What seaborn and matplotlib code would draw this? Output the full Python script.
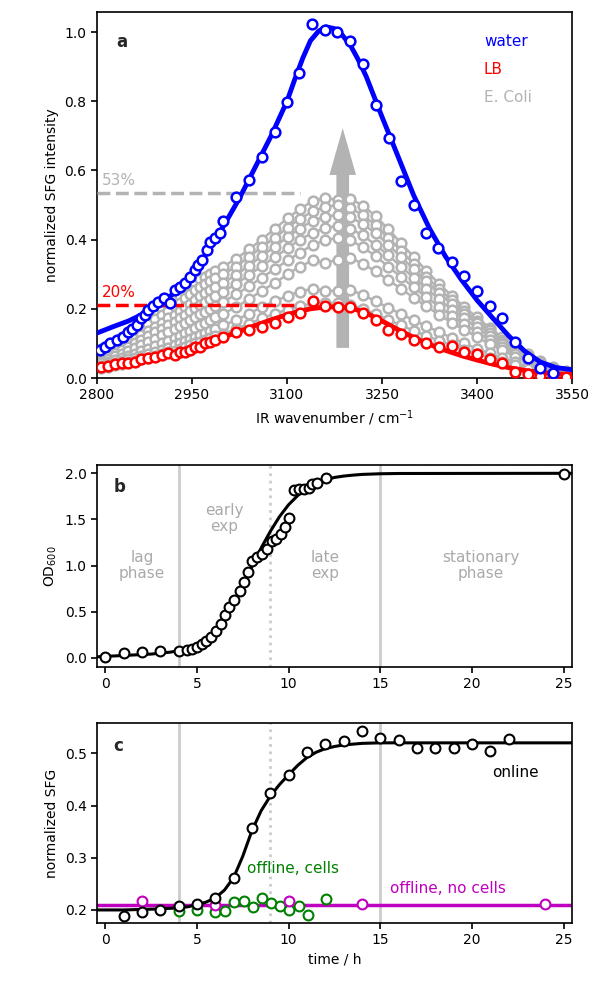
import numpy as np
import pandas as pd
import matplotlib
matplotlib.use("Agg")
import matplotlib.pyplot as plt
import seaborn as sns

# ---------------- Panel a data ----------------
water_x = [2805, 2812, 2821, 2831, 2841, 2849, 2856, 2863, 2870, 2876, 2881, 2889, 2897, 2905,
           2915, 2923, 2931, 2939, 2947, 2955, 2960, 2965, 2973, 2978, 2986, 2994, 2999, 3019,
           3040, 3060, 3081, 3100, 3119, 3139, 3160, 3179, 3200, 3220, 3240, 3261, 3280, 3300,
           3320, 3339, 3360, 3380, 3400, 3420, 3440, 3460, 3480, 3500, 3520]
water_y = [0.081, 0.090, 0.100, 0.110, 0.119, 0.134, 0.143, 0.153, 0.172, 0.182, 0.197, 0.208,
           0.221, 0.230, 0.216, 0.254, 0.264, 0.274, 0.293, 0.312, 0.327, 0.341, 0.370, 0.394,
           0.404, 0.418, 0.455, 0.524, 0.571, 0.640, 0.710, 0.797, 0.883, 1.023, 1.006, 1.001,
           0.974, 0.908, 0.789, 0.694, 0.570, 0.500, 0.418, 0.375, 0.336, 0.295, 0.252, 0.208,
           0.172, 0.105, 0.057, 0.028, 0.015]

fit_x = [2800, 2825, 2850, 2875, 2900, 2925, 2950, 2975, 3000, 3025, 3050, 3075, 3100, 3112,
         3125, 3137, 3150, 3162, 3175, 3187, 3200, 3212, 3225, 3250, 3275, 3300, 3325, 3350,
         3375, 3400, 3425, 3450, 3475, 3500, 3525, 3550]
water_fit = [0.130, 0.148, 0.165, 0.187, 0.215, 0.250, 0.300, 0.365, 0.440, 0.520, 0.610,
             0.700, 0.800, 0.862, 0.925, 0.975, 1.003, 1.015, 1.010, 0.992, 0.962, 0.922,
             0.872, 0.755, 0.642, 0.528, 0.432, 0.352, 0.285, 0.225, 0.173, 0.122, 0.078,
             0.046, 0.030, 0.024]
lb_fit = [0.030, 0.037, 0.044, 0.053, 0.063, 0.075, 0.087, 0.102, 0.118, 0.135, 0.152, 0.168,
          0.183, 0.189, 0.195, 0.200, 0.203, 0.205, 0.206, 0.205, 0.202, 0.196, 0.188, 0.165,
          0.140, 0.117, 0.097, 0.080, 0.065, 0.052, 0.040, 0.030, 0.022, 0.016, 0.012, 0.010]

spec_x = [2807, 2818, 2828, 2839, 2849, 2860, 2870, 2881, 2891, 2902, 2912, 2923, 2931, 2939,
          2947, 2955, 2963, 2970, 2978, 2986, 2999, 3020, 3040, 3060, 3081, 3101, 3120, 3141,
          3160, 3180, 3200, 3220, 3240, 3260, 3280, 3300, 3320, 3340, 3360, 3380, 3400, 3420,
          3440, 3460, 3480, 3500, 3520, 3540]
lb_y = [0.033, 0.035, 0.040, 0.042, 0.044, 0.047, 0.054, 0.057, 0.062, 0.066, 0.071, 0.066,
        0.076, 0.076, 0.081, 0.090, 0.090, 0.100, 0.105, 0.110, 0.119, 0.134, 0.139, 0.148,
        0.158, 0.177, 0.187, 0.223, 0.208, 0.206, 0.206, 0.187, 0.168, 0.139, 0.127, 0.110,
        0.100, 0.091, 0.092, 0.076, 0.069, 0.055, 0.042, 0.018, 0.012, 0.006, 0.004, 0.002]

ecoli_1 = [0.085, 0.095, 0.105, 0.118, 0.130, 0.142, 0.155, 0.170, 0.185, 0.200, 0.212, 0.225,
           0.238, 0.250, 0.262, 0.275, 0.285, 0.292, 0.300, 0.308, 0.322, 0.345, 0.372, 0.400,
           0.432, 0.462, 0.488, 0.512, 0.520, 0.515, 0.518, 0.498, 0.468, 0.430, 0.390, 0.350,
           0.310, 0.272, 0.238, 0.205, 0.175, 0.145, 0.118, 0.092, 0.068, 0.048, 0.032, 0.020]
ecoli_2 = [0.075, 0.085, 0.095, 0.107, 0.118, 0.130, 0.142, 0.155, 0.170, 0.183, 0.195, 0.207,
           0.218, 0.230, 0.242, 0.253, 0.263, 0.272, 0.280, 0.288, 0.300, 0.322, 0.350, 0.378,
           0.405, 0.435, 0.460, 0.482, 0.495, 0.500, 0.492, 0.470, 0.442, 0.405, 0.368, 0.330,
           0.292, 0.258, 0.225, 0.195, 0.165, 0.138, 0.110, 0.086, 0.064, 0.045, 0.030, 0.018]
ecoli_3 = [0.065, 0.073, 0.082, 0.092, 0.102, 0.112, 0.123, 0.135, 0.148, 0.160, 0.172, 0.183,
           0.194, 0.205, 0.215, 0.226, 0.236, 0.245, 0.253, 0.262, 0.275, 0.298, 0.325, 0.352,
           0.380, 0.408, 0.432, 0.455, 0.466, 0.472, 0.465, 0.445, 0.418, 0.385, 0.350, 0.315,
           0.280, 0.246, 0.215, 0.185, 0.158, 0.130, 0.105, 0.082, 0.060, 0.042, 0.028, 0.017]
ecoli_4 = [0.058, 0.065, 0.073, 0.082, 0.090, 0.100, 0.110, 0.120, 0.132, 0.143, 0.153, 0.163,
           0.173, 0.183, 0.193, 0.203, 0.212, 0.220, 0.228, 0.236, 0.250, 0.272, 0.298, 0.323,
           0.350, 0.375, 0.400, 0.420, 0.433, 0.440, 0.432, 0.412, 0.385, 0.355, 0.322, 0.290,
           0.258, 0.228, 0.198, 0.172, 0.146, 0.121, 0.098, 0.076, 0.056, 0.040, 0.026, 0.016]
ecoli_5 = [0.050, 0.056, 0.063, 0.070, 0.078, 0.086, 0.095, 0.104, 0.114, 0.123, 0.133, 0.142,
           0.150, 0.158, 0.167, 0.176, 0.184, 0.192, 0.200, 0.208, 0.220, 0.242, 0.265, 0.290,
           0.315, 0.340, 0.362, 0.385, 0.398, 0.405, 0.398, 0.378, 0.352, 0.322, 0.292, 0.262,
           0.234, 0.206, 0.180, 0.156, 0.133, 0.110, 0.089, 0.070, 0.052, 0.036, 0.024, 0.014]
ecoli_6 = [0.042, 0.047, 0.052, 0.058, 0.064, 0.070, 0.077, 0.084, 0.092, 0.100, 0.107, 0.115,
           0.122, 0.130, 0.137, 0.145, 0.152, 0.160, 0.167, 0.175, 0.186, 0.205, 0.228, 0.252,
           0.275, 0.300, 0.322, 0.340, 0.333, 0.342, 0.347, 0.330, 0.308, 0.283, 0.258, 0.232,
           0.207, 0.183, 0.160, 0.139, 0.118, 0.098, 0.080, 0.062, 0.046, 0.032, 0.021, 0.012]
ecoli_7 = [0.036, 0.040, 0.044, 0.049, 0.054, 0.059, 0.064, 0.070, 0.076, 0.082, 0.088, 0.094,
           0.100, 0.106, 0.112, 0.118, 0.124, 0.130, 0.136, 0.142, 0.152, 0.168, 0.186, 0.205,
           0.222, 0.238, 0.250, 0.258, 0.252, 0.252, 0.255, 0.240, 0.222, 0.203, 0.185, 0.167,
           0.150, 0.133, 0.116, 0.100, 0.085, 0.071, 0.058, 0.045, 0.033, 0.023, 0.015, 0.009]
ecoli_8 = [0.030, 0.033, 0.037, 0.041, 0.045, 0.049, 0.054, 0.059, 0.064, 0.069, 0.074, 0.079,
           0.084, 0.089, 0.094, 0.100, 0.105, 0.110, 0.115, 0.120, 0.128, 0.142, 0.157, 0.172,
           0.186, 0.198, 0.208, 0.215, 0.218, 0.216, 0.212, 0.200, 0.185, 0.168, 0.152, 0.137,
           0.122, 0.108, 0.095, 0.082, 0.070, 0.058, 0.047, 0.037, 0.027, 0.019, 0.012, 0.007]
ecoli_series = [ecoli_1, ecoli_2, ecoli_3, ecoli_4, ecoli_5, ecoli_6, ecoli_7, ecoli_8]

# ---------------- Panel b data ----------------
od_t = [0, 1, 2, 3, 4, 4.45, 4.72, 5.0, 5.27, 5.5, 5.76, 6.05, 6.3, 6.54, 6.77, 7.03, 7.32,
        7.57, 7.81, 7.99, 8.27, 8.54, 8.81, 9.08, 9.32, 9.57, 9.81, 10.04, 10.3, 10.57, 10.84,
        11.1, 11.3, 11.57, 12.04, 25.0]
od_y = [0.003, 0.047, 0.065, 0.076, 0.070, 0.083, 0.100, 0.120, 0.150, 0.185, 0.220, 0.290,
        0.366, 0.467, 0.547, 0.627, 0.720, 0.820, 0.935, 1.050, 1.090, 1.130, 1.180, 1.270,
        1.290, 1.345, 1.416, 1.518, 1.823, 1.826, 1.830, 1.845, 1.880, 1.890, 1.950, 1.997]
od_fit_t = [-0.5, 0, 0.5, 1, 1.5, 2, 2.5, 3, 3.5, 4, 4.5, 5, 5.5, 6, 6.5, 7, 7.5, 8, 8.5, 9,
            9.5, 10, 10.5, 11, 11.5, 12, 12.5, 13, 13.5, 14, 15, 16, 25.5]
od_fit_y = [0.010, 0.015, 0.020, 0.025, 0.030, 0.035, 0.040, 0.050, 0.060, 0.075, 0.095, 0.130,
            0.190, 0.280, 0.410, 0.580, 0.780, 0.990, 1.190, 1.370, 1.530, 1.660, 1.760, 1.840,
            1.890, 1.930, 1.955, 1.970, 1.980, 1.988, 1.995, 1.998, 2.000]

# ---------------- Panel c data ----------------
online_t = [1, 2, 3, 4, 5, 6, 7, 8, 9, 10, 11, 12, 13, 14, 15, 16, 17, 18, 19, 20, 21, 22]
online_y = [0.188, 0.197, 0.199, 0.208, 0.211, 0.222, 0.262, 0.356, 0.423, 0.458, 0.503, 0.517,
            0.524, 0.542, 0.529, 0.526, 0.510, 0.510, 0.510, 0.517, 0.504, 0.528]
online_fit_t = [-0.5, 0, 1, 2, 3, 4, 4.5, 5, 5.5, 6, 6.5, 7, 7.5, 8, 8.5, 9, 9.5, 10, 10.5, 11,
                11.5, 12, 12.5, 13, 14, 15, 25.5]
online_fit_y = [0.200, 0.200, 0.200, 0.201, 0.202, 0.204, 0.206, 0.210, 0.215, 0.223, 0.238,
                0.262, 0.303, 0.352, 0.390, 0.418, 0.440, 0.459, 0.477, 0.492, 0.502, 0.509,
                0.513, 0.516, 0.519, 0.520, 0.520]
cells_t = [4.0, 5.0, 6.0, 6.54, 7.03, 7.54, 8.03, 8.54, 9.03, 9.54, 10.03, 10.54, 11.05, 12.04]
cells_y = [0.198, 0.200, 0.196, 0.198, 0.215, 0.217, 0.206, 0.222, 0.213, 0.208, 0.200, 0.208,
           0.190, 0.221]
nocells_t = [2, 6, 10, 14, 24]
nocells_y = [0.217, 0.209, 0.217, 0.211, 0.211]
nocells_level = 0.210

phase_lines = [4, 15]
exp_split = 9

# ---------------- styling ----------------
sns.set_style("ticks")
plt.rcParams.update({
    "font.family": ["DejaVu Sans"],
    "font.size": 10,
    "axes.labelsize": 10,
    "xtick.labelsize": 10,
    "ytick.labelsize": 10,
    "axes.linewidth": 1.2,
    "axes.edgecolor": "black",
    "xtick.color": "black",
    "ytick.color": "black",
    "xtick.major.width": 1.2,
    "ytick.major.width": 1.2,
    "xtick.major.size": 4,
    "ytick.major.size": 4,
    "axes.labelcolor": "black",
})

GRAY = "#b3b3b3"
VGRAY = "#cccccc"
TGRAY = "#aaaaaa"
MS = 7
MEW = 1.8

fig = plt.figure(figsize=(5.95, 9.89), dpi=100)
L, W = 97 / 595, (572 - 97) / 595
axa = fig.add_axes([L, 1 - 378 / 989, W, 366 / 989])
axb = fig.add_axes([L, 1 - 667 / 989, W, 202 / 989])
axc = fig.add_axes([L, 1 - 923 / 989, W, 200 / 989])

# ---- panel a ----
axa.arrow(3188, 0.087, 0, 0.635, width=20, head_width=42, head_length=0.135,
          length_includes_head=True, color=GRAY, lw=0, zorder=1)

ecoli_df = pd.DataFrame({
    "x": np.tile(spec_x, len(ecoli_series)),
    "y": np.concatenate(ecoli_series),
    "s": np.repeat(np.arange(len(ecoli_series)), len(spec_x)),
})
sns.lineplot(data=ecoli_df, x="x", y="y", hue="s", palette=[GRAY] * len(ecoli_series),
             estimator=None, sort=False, legend=False, ax=axa, lw=1.8, marker="o",
             markersize=MS, markerfacecolor="white", markeredgecolor=GRAY,
             markeredgewidth=MEW, zorder=2)

axa.plot([2800, 3120], [0.535, 0.535], ls="--", color=GRAY, lw=2.5, zorder=3)
axa.plot([2800, 3117], [0.211, 0.211], ls="--", color="r", lw=2.5, zorder=3)
axa.text(2807, 0.570, "53%", color=GRAY, fontsize=11, va="center", ha="left")
axa.text(2807, 0.247, "20%", color="r", fontsize=11, va="center", ha="left")

sns.lineplot(x=fit_x, y=lb_fit, color="r", lw=3.5, ax=axa, zorder=4)
sns.lineplot(x=spec_x, y=lb_y, ax=axa, color="r", lw=0, marker="o", markersize=MS,
             markerfacecolor="white", markeredgecolor="r", markeredgewidth=MEW,
             estimator=None, sort=False, zorder=5)
sns.lineplot(x=fit_x, y=water_fit, color="b", lw=3.5, ax=axa, zorder=6)
sns.lineplot(x=water_x, y=water_y, ax=axa, color="b", lw=0, marker="o", markersize=MS,
             markerfacecolor="white", markeredgecolor="b", markeredgewidth=MEW,
             estimator=None, sort=False, zorder=7)

axa.text(2831, 0.971, "a", fontsize=12, fontweight="bold", va="center", ha="left")
axa.text(3411, 0.972, "water", color="b", fontsize=11, va="center")
axa.text(3411, 0.892, "LB", color="r", fontsize=11, va="center")
axa.text(3411, 0.811, "E. Coli", color=GRAY, fontsize=11, va="center")

axa.set_xlim(2800, 3550)
axa.set_ylim(0, 1.058)
axa.set_xticks([2800, 2950, 3100, 3250, 3400, 3550])
axa.set_yticks([0.0, 0.2, 0.4, 0.6, 0.8, 1.0])
axa.set_xlabel("IR wavenumber / cm$^{-1}$")
axa.set_ylabel("normalized SFG intensity")

# ---- panel b ----
for ax in (axb, axc):
    for p in phase_lines:
        ax.axvline(p, color=VGRAY, lw=2, zorder=0)
    ax.axvline(exp_split, color=VGRAY, lw=2, ls=":", zorder=0)

sns.lineplot(x=od_fit_t, y=od_fit_y, color="black", lw=2.2, ax=axb, zorder=2)
sns.scatterplot(x=od_t, y=od_y, ax=axb, s=50, facecolor="white", edgecolor="black",
                linewidth=1.5, zorder=3)
axb.text(0.45, 1.85, "b", fontsize=12, fontweight="bold", va="center", ha="left")
axb.text(2.0, 1.0, "lag\nphase", color=TGRAY, fontsize=11, ha="center", va="center",
         linespacing=1.1)
axb.text(6.5, 1.51, "early\nexp", color=TGRAY, fontsize=11, ha="center", va="center",
         linespacing=1.1)
axb.text(12.0, 1.0, "late\nexp", color=TGRAY, fontsize=11, ha="center", va="center",
         linespacing=1.1)
axb.text(20.5, 1.0, "stationary\nphase", color=TGRAY, fontsize=11, ha="center",
         va="center", linespacing=1.1)
axb.set_xlim(-0.45, 25.45)
axb.set_ylim(-0.1, 2.09)
axb.set_xticks([0, 5, 10, 15, 20, 25])
axb.set_yticks([0.0, 0.5, 1.0, 1.5, 2.0])
axb.set_ylabel("OD$_{600}$")
axb.set_xlabel("")

# ---- panel c ----
axc.axhline(nocells_level, color="m", lw=2.5, zorder=2)
sns.lineplot(x=online_fit_t, y=online_fit_y, color="black", lw=2.2, ax=axc, zorder=3)
sns.scatterplot(x=cells_t, y=cells_y, ax=axc, s=50, facecolor="white", edgecolor="g",
                linewidth=1.5, zorder=4)
sns.scatterplot(x=nocells_t, y=nocells_y, ax=axc, s=50, facecolor="white", edgecolor="m",
                linewidth=1.5, zorder=5)
sns.scatterplot(x=online_t, y=online_y, ax=axc, s=50, facecolor="white", edgecolor="black",
                linewidth=1.5, zorder=6)
axc.text(0.45, 0.514, "c", fontsize=12, fontweight="bold", va="center", ha="left")
axc.text(21.1, 0.463, "online", color="black", fontsize=11, va="center", ha="left")
axc.text(7.72, 0.28, "offline, cells", color="g", fontsize=11, va="center", ha="left")
axc.text(15.5, 0.241, "offline, no cells", color="m", fontsize=11, va="center", ha="left")
axc.set_xlim(-0.45, 25.45)
axc.set_ylim(0.175, 0.558)
axc.set_xticks([0, 5, 10, 15, 20, 25])
axc.set_yticks([0.2, 0.3, 0.4, 0.5])
axc.set_xlabel("time / h")
axc.set_ylabel("normalized SFG")

fig.savefig("out.png", dpi=100)
